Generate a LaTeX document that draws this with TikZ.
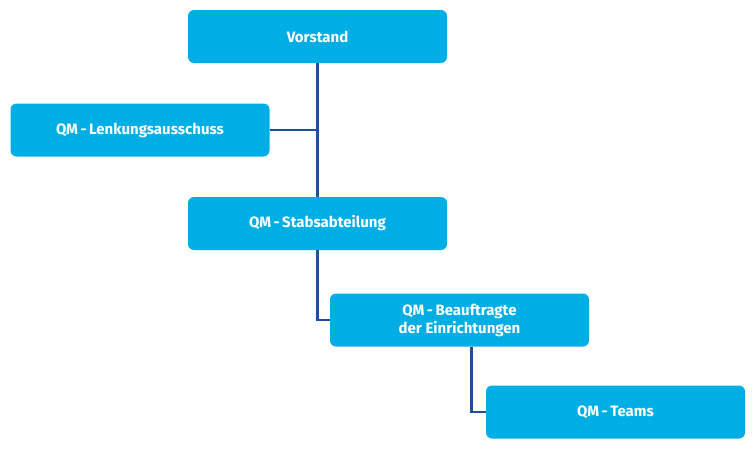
\documentclass[tikz,border=0pt]{standalone}
\usepackage{fontspec}
\setmainfont{Fira Sans}
\usetikzlibrary{positioning}
\definecolor{boxblue}{HTML}{00AEE6}
\definecolor{linkblue}{HTML}{1F4E9A}
\tikzset{
  orgbox/.style={fill=boxblue, rounded corners=6pt, minimum width=259pt, minimum height=53pt,
    text=white, font=\bfseries\fontsize{15}{18}\selectfont, align=center, inner sep=2pt},
  link/.style={draw=linkblue, line width=2.5pt}
}
\begin{document}
\begin{tikzpicture}[x=1pt,y=-1pt]
        \useasboundingbox (0,0) rectangle (756,450);
        
        \node[orgbox] (vorstand) at (317.5,36.5) {Vorstand};
        \node[orgbox] (lenkung) at (140,130) {QM\,-\,Lenkungsausschuss};
        \node[orgbox] (stab) at (317.5,223.5) {QM\,-\,Stabsabteilung};
        \node[orgbox] (beauftragte) at (459.5,320) {QM\,-\,Beauftragte\\der Einrichtungen};
        \node[orgbox] (teams) at (615.5,412) {QM\,-\,Teams};
        
        \draw[link] (vorstand.south) -- (stab.north);
        \draw[link] (lenkung.east) -- (lenkung.east -| vorstand.south);
        \draw[link] (stab.south) |- (beauftragte.west);
        \draw[link] ([xshift=12pt]beauftragte.south) |- (teams.west);
    \end{tikzpicture}
\end{document}
